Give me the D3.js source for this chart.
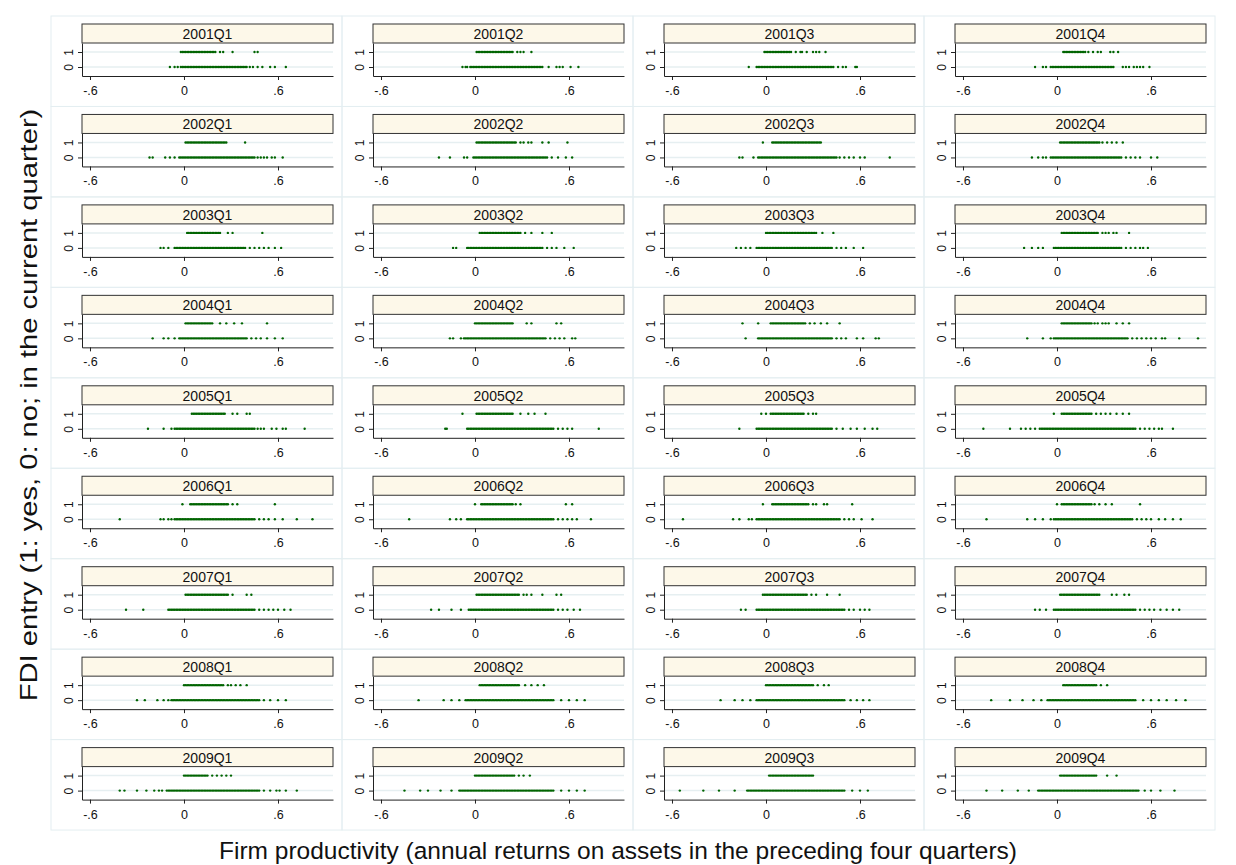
<!DOCTYPE html>
<html>
<head>
<meta charset="utf-8">
<script src="https://cdn.jsdelivr.net/npm/d3@7"></script>
<style>
  body { margin: 0; background: #fff; }
  svg { display: block; }
  text { font-family: "Liberation Sans", Arial, sans-serif; }
</style>
</head>
<body>
<svg id="chart" width="1236" height="865"></svg>
<script>
// panel labels
var years = [2001, 2002, 2003, 2004, 2005, 2006, 2007, 2008, 2009];
var quarters = ["Q1", "Q2", "Q3", "Q4"];
var xTicks = [-0.6, 0, 0.6];
var xTickLabels = ["-.6", "0", ".6"];
var yTicks = [0, 1];

// firm productivity of entrants (y = 1), in hundredths
var onesData = [
  "-2 -1 0 1 2 3 4 5 6 7 8 9 10 11 12 13 14 15 16 17 18 19 20 23 25 31 45 47",
  "1 2 3 4 5 6 7 8 9 10 11 12 13 14 15 16 17 18 19 20 21 22 23 24 27 29 31 36",
  "-1 0 1 2 3 4 5 6 7 8 9 10 11 12 13 14 15 16 19 22 23 26 30 32 34 38",
  "4 5 6 7 8 9 10 11 12 13 14 15 16 17 18 20 23 26 28 34 36 39",
  "1 2 3 4 5 6 7 8 9 10 11 12 13 14 15 16 17 18 19 20 21 22 23 24 25 26 27 39",
  "1 2 3 4 5 6 7 8 9 10 11 12 13 14 15 16 17 18 19 20 21 22 23 24 25 26 29 31 34 36 43 47 59",
  "-2 4 5 6 7 8 9 10 11 12 13 14 15 16 17 18 19 20 21 22 23 24 25 26 27 28 29 30 31 32 33 34 35",
  "2 3 4 5 6 7 8 9 10 11 12 13 14 15 16 17 18 19 20 21 22 23 24 25 26 27 29 32 35 38 42",
  "2 3 4 5 6 7 8 9 10 11 12 13 14 15 16 17 18 19 20 21 22 23 28 31 50",
  "3 4 5 6 7 8 9 10 11 12 13 14 15 16 17 18 19 20 21 22 23 24 25 26 27 28 29 32 36 43 49",
  "0 1 2 3 4 5 6 7 8 9 10 11 12 13 14 15 16 17 18 19 20 21 22 23 24 25 26 27 28 29 30 31 32 36 43",
  "3 4 5 6 7 8 9 10 11 12 13 14 15 16 17 18 19 20 21 22 23 24 25 26 29 31 33 36 38 46",
  "1 2 3 4 5 6 7 8 9 10 11 12 13 14 15 16 17 18 23 27 32 37 53",
  "0 1 2 3 4 5 6 7 8 9 10 11 12 13 14 15 16 17 18 19 20 21 22 23 24 33 36 52 55",
  "-15 -5 3 4 5 6 7 8 9 10 11 12 13 14 15 16 17 18 19 20 21 22 23 24 25 28 31 35 39 47",
  "3 4 5 6 7 8 9 10 11 12 13 14 15 16 17 18 19 20 21 22 24 26 29 31 33 38 42 46",
  "5 6 7 8 9 10 11 12 13 14 15 16 17 18 19 20 21 22 23 24 25 26 31 34 40 42",
  "-8 1 2 3 4 5 6 7 8 9 10 11 12 13 14 15 16 17 18 19 20 21 22 23 24 29 34 38 45",
  "-3 0 3 4 5 6 7 8 9 10 11 12 13 14 15 16 17 18 19 20 21 22 23 24 27 30 32",
  "-2 3 4 5 6 7 8 9 10 11 12 13 14 15 16 17 18 19 20 21 22 25 28 31 34 38 42 46",
  "-1 4 5 6 7 8 9 10 11 12 13 14 15 16 17 18 19 20 21 22 23 24 25 26 27 28 31 34 58",
  "0 4 5 6 7 8 9 10 11 12 13 14 15 16 17 18 19 20 21 22 23 24 26 29 58 62",
  "-2 4 5 6 7 8 9 10 11 12 13 14 15 16 17 18 19 20 21 22 23 24 25 26 27 30 32 37 39 55",
  "0 3 4 5 6 7 8 9 10 11 12 13 14 15 16 17 18 19 20 21 22 24 27 31 35 53",
  "1 2 3 4 5 6 7 8 9 10 11 12 13 14 15 16 17 18 19 20 21 22 23 24 25 26 27 28 31 40 43",
  "1 2 3 4 5 6 7 8 9 10 11 12 13 14 15 16 17 18 19 20 21 22 23 24 25 26 27 28 31 33 36 43 52 55",
  "-2 -1 0 1 2 3 4 5 6 7 8 9 10 11 12 13 14 15 16 17 18 19 20 21 22 23 24 25 26 29 32 39 47",
  "2 3 4 5 6 7 8 9 10 11 12 13 14 15 16 17 18 19 20 21 22 23 24 25 26 27 35 38 43 46",
  "0 1 2 3 4 5 6 7 8 9 10 11 12 13 14 15 16 17 18 19 20 21 22 23 24 25 28 30 33 36 40",
  "3 4 5 6 7 8 9 10 11 12 13 14 15 16 17 18 19 20 21 22 23 24 25 26 27 28 32 36 40 44",
  "0 1 2 3 4 5 6 7 8 9 10 11 12 13 14 15 16 17 18 19 20 21 22 23 24 25 26 27 28 29 30 33 37 40",
  "4 5 6 7 8 9 10 11 12 13 14 15 16 17 18 19 20 21 22 23 24 25 28 32",
  "0 1 2 3 4 5 6 7 8 9 10 11 12 13 14 15 18 21 24 27 30",
  "0 1 2 3 4 5 6 7 8 9 10 11 12 13 14 15 16 17 18 19 20 21 22 23 24 25 28 31 35",
  "2 3 4 5 6 7 8 9 10 11 12 13 14 15 16 17 18 19 20 21 22 23 24 25 26 27 28 29 30",
  "2 3 4 5 6 7 8 9 10 11 12 13 14 15 16 17 18 19 20 21 22 23 24 25 32 38"
];

// firm productivity of non-entrants (y = 0), in hundredths
var zerosData = [
  "-9 -6 -4 -2 -1 0 1 2 3 4 5 6 7 8 9 10 11 12 13 14 15 16 17 18 19 20 21 22 23 24 25 26 27 28 29 30 31 32 33 34 35 36 37 38 39 40 42 44 47 50 55 58 65",
  "-8 -6 -5 -3 -2 -1 0 1 2 3 4 5 6 7 8 9 10 11 12 13 14 15 16 17 18 19 20 21 22 23 24 25 26 27 28 29 30 31 32 33 34 35 36 37 38 39 40 41 42 43 47 52 54 56 61 66",
  "-11 -6 -5 -4 -3 -2 -1 0 1 2 3 4 5 6 7 8 9 10 11 12 13 14 15 16 17 18 19 20 21 22 23 24 25 26 27 28 29 30 31 32 33 34 35 36 37 38 39 40 41 42 43 46 49 51 57 58",
  "-14 -9 -7 -4 -3 -2 -1 0 1 2 3 4 5 6 7 8 9 10 11 12 13 14 15 16 17 18 19 20 21 22 23 24 25 26 27 28 29 30 31 32 33 34 35 36 42 44 46 49 51 53 55 59",
  "-22 -20 -12 -9 -6 -3 -2 -1 0 1 2 3 4 5 6 7 8 9 10 11 12 13 14 15 16 17 18 19 20 21 22 23 24 25 26 27 28 29 30 31 32 33 34 35 36 37 38 39 40 41 42 43 44 45 47 49 51 53 56 58 63",
  "-23 -16 -7 -5 -1 0 1 2 3 4 5 6 7 8 9 10 11 12 13 14 15 16 17 18 19 20 21 22 23 24 25 26 27 28 29 30 31 32 33 34 35 36 37 38 39 40 41 42 43 44 45 46 49 53 58 62",
  "-17 -15 -8 -5 -4 -3 -2 -1 0 1 2 3 4 5 6 7 8 9 10 11 12 13 14 15 16 17 18 19 20 21 22 23 24 25 26 27 28 29 30 31 32 33 34 35 36 37 38 39 40 41 42 43 44 45 47 50 53 56 60 63 79",
  "-16 -12 -9 -7 -4 -3 -2 -1 0 1 2 3 4 5 6 7 8 9 10 11 12 13 14 15 16 17 18 19 20 21 22 23 24 25 26 27 28 29 30 31 32 33 34 35 36 37 38 39 40 41 44 47 50 53 60 64",
  "-15 -13 -10 -6 -5 -4 -3 -2 -1 0 1 2 3 4 5 6 7 8 9 10 11 12 13 14 15 16 17 18 19 20 21 22 23 24 25 26 27 28 29 30 31 32 33 34 35 36 37 38 39 42 45 48 51 54 58 62",
  "-14 -12 -5 -4 -3 -2 -1 0 1 2 3 4 5 6 7 8 9 10 11 12 13 14 15 16 17 18 19 20 21 22 23 24 25 26 27 28 29 30 31 32 33 34 35 36 37 38 39 40 41 42 43 46 49 52 57 63",
  "-19 -16 -13 -10 -6 -5 -4 -3 -2 -1 0 1 2 3 4 5 6 7 8 9 10 11 12 13 14 15 16 17 18 19 20 21 22 23 24 25 26 27 28 29 30 31 32 33 34 35 36 37 38 39 40 41 42 45 48 51 56 62",
  "-21 -16 -12 -9 -2 -1 0 1 2 3 4 5 6 7 8 9 10 11 12 13 14 15 16 17 18 19 20 21 22 23 24 25 26 27 28 29 30 31 32 33 34 35 36 37 38 39 40 41 44 47 50 53 55 58",
  "-20 -13 -10 -6 -3 -2 -1 0 1 2 3 4 5 6 7 8 9 10 11 12 13 14 15 16 17 18 19 20 21 22 23 24 25 26 27 28 29 30 31 32 33 34 35 36 37 38 39 40 43 46 49 53 58 63",
  "-16 -14 -9 -7 -6 -5 -4 -3 -2 -1 0 1 2 3 4 5 6 7 8 9 10 11 12 13 14 15 16 17 18 19 20 21 22 23 24 25 26 27 28 29 30 31 32 33 34 35 36 37 38 39 40 41 42 43 44 45 48 51 54 57 62 64",
  "-13 -5 -4 -3 -2 -1 0 1 2 3 4 5 6 7 8 9 10 11 12 13 14 15 16 17 18 19 20 21 22 23 24 25 26 27 28 29 30 31 32 33 34 35 36 37 38 39 40 41 42 45 48 51 58 62 70 72",
  "-19 -9 -4 -2 -1 0 1 2 3 4 5 6 7 8 9 10 11 12 13 14 15 16 17 18 19 20 21 22 23 24 25 26 27 28 29 30 31 32 33 34 35 36 37 38 39 40 41 42 43 44 45 48 51 54 57 60 63 67 69 78 90",
  "-23 -13 -8 -6 -5 -4 -3 -2 -1 0 1 2 3 4 5 6 7 8 9 10 11 12 13 14 15 16 17 18 19 20 21 22 23 24 25 26 27 28 29 30 31 32 33 34 35 36 37 38 39 40 41 42 43 44 45 47 49 51 56 59 63 65 77",
  "-19 -18 -5 -4 -3 -2 -1 0 1 2 3 4 5 6 7 8 9 10 11 12 13 14 15 16 17 18 19 20 21 22 23 24 25 26 27 28 29 30 31 32 33 34 35 36 37 38 39 40 41 42 43 44 45 46 47 48 49 50 53 56 59 62 79",
  "-17 -6 -5 -4 -3 -2 -1 0 1 2 3 4 5 6 7 8 9 10 11 12 13 14 15 16 17 18 19 20 21 22 23 24 25 26 27 28 29 30 31 32 33 34 35 36 37 38 39 40 41 42 45 49 54 58 63 68 71",
  "-47 -30 -23 -20 -17 -14 -11 -10 -9 -8 -7 -6 -5 -4 -3 -2 -1 0 1 2 3 4 5 6 7 8 9 10 11 12 13 14 15 16 17 18 19 20 21 22 23 24 25 26 27 28 29 30 31 32 33 34 35 36 37 38 39 40 41 42 43 44 45 46 47 48 49 50 53 56 59 62 65 67 74",
  "-41 -15 -13 -10 -8 -6 -5 -4 -3 -2 -1 0 1 2 3 4 5 6 7 8 9 10 11 12 13 14 15 16 17 18 19 20 21 22 23 24 25 26 27 28 29 30 31 32 33 34 35 36 37 38 39 40 41 42 43 44 45 48 51 54 58 63 72 82",
  "-42 -16 -12 -9 -5 -4 -3 -2 -1 0 1 2 3 4 5 6 7 8 9 10 11 12 13 14 15 16 17 18 19 20 21 22 23 24 25 26 27 28 29 30 31 32 33 34 35 36 37 38 39 40 41 42 43 44 45 46 47 48 49 50 53 56 59 62 65 74",
  "-53 -21 -17 -11 -9 -6 -5 -4 -3 -2 -1 0 1 2 3 4 5 6 7 8 9 10 11 12 13 14 15 16 17 18 19 20 21 22 23 24 25 26 27 28 29 30 31 32 33 34 35 36 37 38 39 40 41 42 43 44 45 46 47 50 53 56 61 68",
  "-45 -19 -14 -9 -4 -2 -1 0 1 2 3 4 5 6 7 8 9 10 11 12 13 14 15 16 17 18 19 20 21 22 23 24 25 26 27 28 29 30 31 32 33 34 35 36 37 38 39 40 41 42 43 44 45 46 47 48 51 54 57 60 65 69 74 79",
  "-37 -26 -10 -9 -8 -7 -6 -5 -4 -3 -2 -1 0 1 2 3 4 5 6 7 8 9 10 11 12 13 14 15 16 17 18 19 20 21 22 23 24 25 26 27 28 29 30 31 32 33 34 35 36 37 38 39 40 41 42 43 44 45 48 51 54 57 60 64 68",
  "-28 -23 -15 -9 -4 -3 -2 -1 0 1 2 3 4 5 6 7 8 9 10 11 12 13 14 15 16 17 18 19 20 21 22 23 24 25 26 27 28 29 30 31 32 33 34 35 36 37 38 39 40 41 42 43 44 45 46 47 48 49 50 53 56 59 63 67",
  "-16 -13 -6 -5 -4 -3 -2 -1 0 1 2 3 4 5 6 7 8 9 10 11 12 13 14 15 16 17 18 19 20 21 22 23 24 25 26 27 28 29 30 31 32 33 34 35 36 37 38 39 40 41 42 43 44 45 46 47 48 49 50 53 56 60 63 66",
  "-14 -11 -7 -2 -1 0 1 2 3 4 5 6 7 8 9 10 11 12 13 14 15 16 17 18 19 20 21 22 23 24 25 26 27 28 29 30 31 32 33 34 35 36 37 38 39 40 41 42 43 44 45 46 47 48 49 50 53 56 59 62 66 70 74 78",
  "-30 -25 -17 -13 -10 -8 -7 -6 -5 -4 -3 -2 -1 0 1 2 3 4 5 6 7 8 9 10 11 12 13 14 15 16 17 18 19 20 21 22 23 24 25 26 27 28 29 30 31 32 33 34 35 36 37 38 39 40 41 42 43 44 45 46 47 48 51 55 60 65",
  "-36 -20 -15 -10 -6 -5 -4 -3 -2 -1 0 1 2 3 4 5 6 7 8 9 10 11 12 13 14 15 16 17 18 19 20 21 22 23 24 25 26 27 28 29 30 31 32 33 34 35 36 37 38 39 40 41 42 43 44 45 46 47 48 49 50 55 60 65 70",
  "-29 -20 -15 -10 -6 -5 -4 -3 -2 -1 0 1 2 3 4 5 6 7 8 9 10 11 12 13 14 15 16 17 18 19 20 21 22 23 24 25 26 27 28 29 30 31 32 33 34 35 36 37 38 39 40 41 42 43 44 45 46 47 48 49 50 54 58 62 66",
  "-42 -30 -22 -15 -10 -6 -5 -4 -3 -2 -1 0 1 2 3 4 5 6 7 8 9 10 11 12 13 14 15 16 17 18 19 20 21 22 23 24 25 26 27 28 29 30 31 32 33 34 35 36 37 38 39 40 41 42 43 44 45 46 47 48 49 50 55 60 65 70 76 82",
  "-41 -38 -30 -24 -19 -16 -14 -11 -10 -9 -8 -7 -6 -5 -4 -3 -2 -1 0 1 2 3 4 5 6 7 8 9 10 11 12 13 14 15 16 17 18 19 20 21 22 23 24 25 26 27 28 29 30 31 32 33 34 35 36 37 38 39 40 41 42 43 44 45 46 47 48 51 55 59 61 65 72",
  "-45 -35 -30 -22 -15 -10 -9 -8 -7 -6 -5 -4 -3 -2 -1 0 1 2 3 4 5 6 7 8 9 10 11 12 13 14 15 16 17 18 19 20 21 22 23 24 25 26 27 28 29 30 31 32 33 34 35 36 37 38 39 40 41 42 43 44 45 46 47 48 49 50 55 60 65 70",
  "-55 -40 -30 -20 -12 -11 -10 -9 -8 -7 -6 -5 -4 -3 -2 -1 0 1 2 3 4 5 6 7 8 9 10 11 12 13 14 15 16 17 18 19 20 21 22 23 24 25 26 27 28 29 30 31 32 33 34 35 36 37 38 39 40 41 42 43 44 45 46 47 48 49 50 55 60 65",
  "-45 -35 -25 -18 -12 -11 -10 -9 -8 -7 -6 -5 -4 -3 -2 -1 0 1 2 3 4 5 6 7 8 9 10 11 12 13 14 15 16 17 18 19 20 21 22 23 24 25 26 27 28 29 30 31 32 33 34 35 36 37 38 39 40 41 42 43 44 45 46 47 48 49 50 51 52 56 60 66 75"
];

function parse(s) {
  return s.split(" ").map(function(v) { return +v / 100; });
}

var svg = d3.select("#chart");

var panelW = 291, panelH = 90.45;
var left0 = 51, top0 = 16;

var labels = [];
years.forEach(function(y) {
  quarters.forEach(function(q) { labels.push(y + q); });
});

labels.forEach(function(label, i) {
  var col = i % 4, row = Math.floor(i / 4);
  var ox = left0 + col * panelW, oy = top0 + row * panelH;

  var g = svg.append("g").attr("transform", "translate(" + ox + "," + oy + ")");

  // light frame round each panel
  g.append("rect")
    .attr("x", 0).attr("y", 0)
    .attr("width", panelW).attr("height", panelH)
    .attr("fill", "none")
    .attr("stroke", "#e4eef1")
    .attr("stroke-width", 1);

  var x = d3.scaleLinear().domain([-0.651, 0.951]).range([31, 282]);
  var y = d3.scaleLinear().domain([-0.6, 1.6]).range([60, 27]);

  // grid lines
  g.selectAll(".grid")
    .data(yTicks).enter()
    .append("line").attr("class", "grid")
    .attr("x1", 31).attr("x2", 282)
    .attr("y1", function(d) { return y(d); })
    .attr("y2", function(d) { return y(d); })
    .attr("stroke", "#e6eff1")
    .attr("stroke-width", 1.5);

  // points
  var pts = [];
  parse(zerosData[i]).forEach(function(v) { pts.push({x: v, y: 0}); });
  parse(onesData[i]).forEach(function(v) { pts.push({x: v, y: 1}); });

  g.selectAll(".pt")
    .data(pts).enter()
    .append("circle").attr("class", "pt")
    .attr("cx", function(d) { return x(d.x); })
    .attr("cy", function(d) { return y(d.y); })
    .attr("r", 1.2)
    .attr("fill", "#006400");

  // x axis
  var xAxis = d3.axisBottom(x)
    .tickValues(xTicks)
    .tickFormat(function(d, j) { return xTickLabels[j]; })
    .tickSize(4).tickSizeOuter(0);
  var xg = g.append("g").attr("transform", "translate(0,60)").call(xAxis);
  xg.select(".domain").attr("stroke", "#222");
  xg.selectAll(".tick line").attr("stroke", "#222");
  xg.selectAll("text")
    .attr("y", 19).attr("dy", 0)
    .attr("font-size", 12.5).attr("fill", "#111")
    .style("font-family", "'Liberation Sans', Arial, sans-serif");

  // y axis
  var yAxis = d3.axisLeft(y)
    .tickValues(yTicks)
    .tickFormat(d3.format("d"))
    .tickSize(4).tickSizeOuter(0);
  var yg = g.append("g").attr("transform", "translate(31,0)").call(yAxis);
  yg.select(".domain").attr("stroke", "#222");
  yg.selectAll(".tick line").attr("stroke", "#222");
  yg.selectAll("text")
    .attr("transform", "rotate(-90)")
    .attr("x", 0).attr("y", -9).attr("dy", 0)
    .attr("text-anchor", "middle")
    .attr("font-size", 12).attr("fill", "#111")
    .style("font-family", "'Liberation Sans', Arial, sans-serif");

  // header strip
  g.append("rect")
    .attr("x", 31).attr("y", 8)
    .attr("width", 251).attr("height", 19)
    .attr("fill", "#fdf8e9")
    .attr("stroke", "#333")
    .attr("stroke-width", 1);
  g.append("text")
    .attr("x", 156.5).attr("y", 23)
    .attr("text-anchor", "middle")
    .attr("font-size", 14)
    .attr("fill", "#111")
    .text(label);
});

// axis titles
svg.append("text")
  .attr("x", 618).attr("y", 859)
  .attr("text-anchor", "middle")
  .attr("font-size", 24.5)
  .attr("fill", "#111")
  .text("Firm productivity (annual returns on assets in the preceding four quarters)");

svg.append("text")
  .attr("transform", "translate(37,405) scale(1,1.19) rotate(-90)")
  .attr("text-anchor", "middle")
  .attr("font-size", 24.5)
  .attr("fill", "#111")
  .text("FDI entry (1: yes, 0: no; in the current quarter)");
</script>
</body>
</html>
